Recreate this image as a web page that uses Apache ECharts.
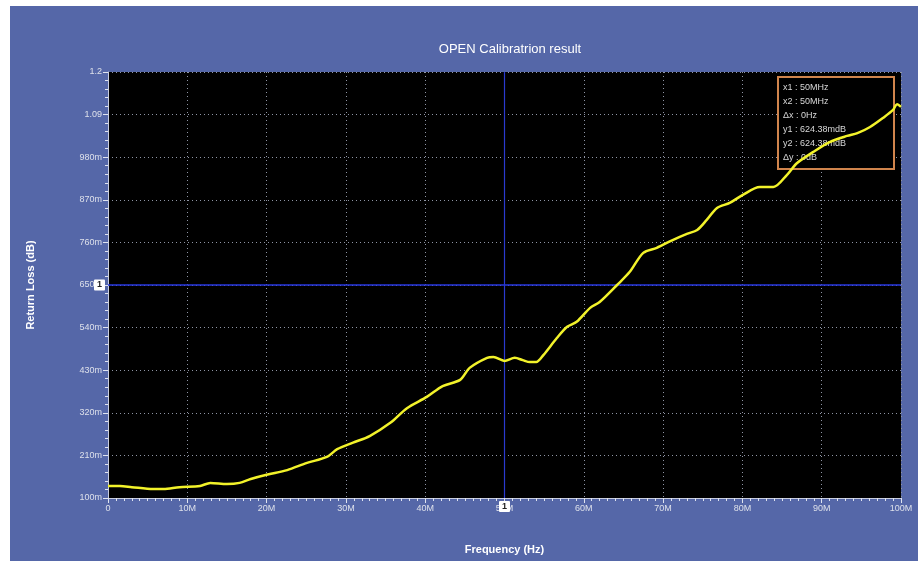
<!DOCTYPE html>
<html>
	<head>
		<meta charset="utf-8" />
		<title>OPEN Calibratrion result</title>
		<script src="https://cdn.jsdelivr.net/npm/echarts@6/dist/echarts.min.js"></script>
		<style>
			body {
				margin: 0;
				background-color: #FFFFFF;
			}
			.panel {
				position: absolute;
				left: 10px;
				top: 6px;
				width: 908px;
				height: 555px;
				background-color: #5567a8;
			}
			.chart {
				position: absolute;
				left: 0;
				top: 0;
				width: 922px;
				height: 563px;
			}
		</style>
	</head>
	<body>
		<div class="panel"></div>
		<div class="chart" id="lineChart"></div>
		<script>
			// 频率 (MHz)
			var freqMHz = [0, 1.5, 3, 5.7, 7, 9, 11.6, 12.9, 15, 16.6, 18, 20, 22.6, 25, 27.6, 28.9, 30.9, 33, 35.6, 37.7,
				40.2, 42.2, 44.4, 45.6, 47.8, 48.6, 50, 51.3, 52.3, 53.2, 54, 54.9, 56.6, 57.9, 59.1, 60.8, 62, 64.2, 65.8,
				67.5, 69.2, 71.2, 73, 74.3, 75.5, 76.8, 78.4, 80, 82.2, 83.9, 85.6, 86.9, 88.9, 91, 93.2, 94.5, 96.1, 97.7,
				99, 99.5, 100];
			// 回波损耗 (dB)
			var returnLoss = [0.131, 0.131, 0.128, 0.123, 0.123, 0.128, 0.131, 0.139, 0.136, 0.139, 0.149, 0.160, 0.172,
				0.190, 0.206, 0.226, 0.243, 0.260, 0.294, 0.332, 0.361, 0.389, 0.405, 0.436, 0.462, 0.464, 0.454, 0.462,
				0.456, 0.451, 0.451, 0.469, 0.513, 0.542, 0.555, 0.591, 0.606, 0.650, 0.684, 0.733, 0.746, 0.766, 0.782,
				0.792, 0.818, 0.849, 0.862, 0.882, 0.903, 0.903, 0.934, 0.965, 0.993, 1.019, 1.035, 1.042, 1.058, 1.081,
				1.102, 1.117, 1.110];
			// y轴刻度
			var yTicks = [0.1, 0.21, 0.32, 0.43, 0.54, 0.65, 0.76, 0.87, 0.98, 1.09, 1.2];
			var yTickLabels = ['100m', '210m', '320m', '430m', '540m', '650m', '760m', '870m', '980m', '1.09', '1.2'];
			var xTickLabels = ['0', '10M', '20M', '30M', '40M', '50M', '60M', '70M', '80M', '90M', '100M'];
			// 光标
			var markerX = 50e6;
			var markerY = 0.65;
			var cursorText = ['x1 : 50MHz', 'x2 : 50MHz', '\u0394x : 0Hz', 'y1 : 624.38mdB', 'y2 : 624.38mdB', '\u0394y : 0dB'];

			var fontName = 'Liberation Sans';
			var seriesData = freqMHz.map(function(f, i) {
				return [f * 1e6, returnLoss[i]];
			});

			// y轴小刻度
			var yMinor = [];
			for (var i = 0; i < yTicks.length - 1; i++) {
				for (var k = 1; k < 5; k++) {
					yMinor.push(yTicks[i] + (yTicks[i + 1] - yTicks[i]) * k / 5);
				}
			}

			var cursorGraphic = [{
				type: 'rect',
				z: 1,
				shape: { x: 778, y: 77, width: 116, height: 92 },
				style: { fill: '#000', stroke: '#d0844c', lineWidth: 2 }
			}];
			cursorText.forEach(function(t, i) {
				cursorGraphic.push({
					type: 'text',
					z: 1,
					x: 783,
					y: 83 + i * 14,
					style: { text: t, fill: '#d8d8d8', font: '9px ' + fontName }
				});
			});

			var lineChart = echarts.init(document.getElementById('lineChart'));
			var option = {
				backgroundColor: 'transparent',
				animation: false,
				title: {
					text: 'OPEN Calibratrion result',
					left: 505,
					top: 38,
					textAlign: 'center',
					textStyle: { color: '#FFFFFF', fontSize: 13, fontWeight: 'normal', fontFamily: fontName }
				},
				grid: {
					left: 108,
					top: 72,
					width: 793,
					height: 426,
					show: true,
					backgroundColor: '#000000',
					borderWidth: 0
				},
				xAxis: {
					type: 'value',
					min: 0,
					max: 100e6,
					interval: 10e6,
					name: 'Frequency (Hz)',
					nameLocation: 'middle',
					nameGap: 46,
					nameTextStyle: { color: '#FFFFFF', fontSize: 11, fontWeight: 'bold', fontFamily: fontName },
					axisLine: { show: true, lineStyle: { color: '#c8cde0' } },
					axisTick: { show: true, length: 5, lineStyle: { color: '#e0e4f0' } },
					minorTick: { show: true, splitNumber: 10, length: 3, lineStyle: { color: '#e0e4f0' } },
					axisLabel: {
						color: '#dde0ea',
						fontSize: 9,
						fontFamily: fontName,
						margin: 6,
						formatter: function(v) {
							return xTickLabels[Math.round(v / 10e6)];
						}
					},
					splitLine: { show: true, lineStyle: { color: '#8f95a5', type: [1, 3], width: 1 } }
				},
				yAxis: [{
					type: 'value',
					min: 0.1,
					max: 1.2,
					name: 'Return Loss (dB)',
					nameLocation: 'middle',
					nameGap: 72,
					nameTextStyle: { color: '#FFFFFF', fontSize: 11, fontWeight: 'bold', fontFamily: fontName },
					axisLine: { show: true, lineStyle: { color: '#c8cde0' } },
					axisTick: { show: true, length: 5, customValues: yTicks, lineStyle: { color: '#e0e4f0' } },
					axisLabel: {
						color: '#dde0ea',
						fontSize: 9,
						fontFamily: fontName,
						margin: 6,
						customValues: yTicks,
						formatter: function(v) {
							var idx = 0;
							for (var i = 0; i < yTicks.length; i++) {
								if (Math.abs(yTicks[i] - v) < 1e-6) idx = i;
							}
							return yTickLabels[idx];
						}
					},
					splitLine: { show: true, lineStyle: { color: '#8f95a5', type: [1, 3], width: 1 } }
				}, {
					// 小刻度
					type: 'value',
					min: 0.1,
					max: 1.2,
					position: 'left',
					axisLine: { show: false },
					axisTick: { show: true, length: 3, customValues: yMinor, lineStyle: { color: '#e0e4f0' } },
					axisLabel: { show: false },
					splitLine: { show: false }
				}],
				graphic: cursorGraphic,
				series: [{
					type: 'line',
					z: 5,
					data: seriesData,
					showSymbol: false,
					smooth: 0.3,
					lineStyle: { color: '#f2f22a', width: 2.5 },
					markLine: {
						silent: true,
						symbol: ['none', 'none'],
						lineStyle: { color: '#2a3ad0', width: 1.2, type: 'solid' },
						label: {
							show: true,
							position: 'start',
							formatter: '1',
							color: '#222',
							backgroundColor: '#FFFFFF',
							fontSize: 9,
							fontWeight: 'bold',
							padding: [1, 3],
							borderRadius: 1,
							distance: 3
						},
						data: [
							{ yAxis: markerY, lineStyle: { color: '#2838e0', width: 1.5, type: 'solid' } },
							{ xAxis: markerX }
						]
					}
				}]
			};
			lineChart.setOption(option);
		</script>
	</body>
</html>
